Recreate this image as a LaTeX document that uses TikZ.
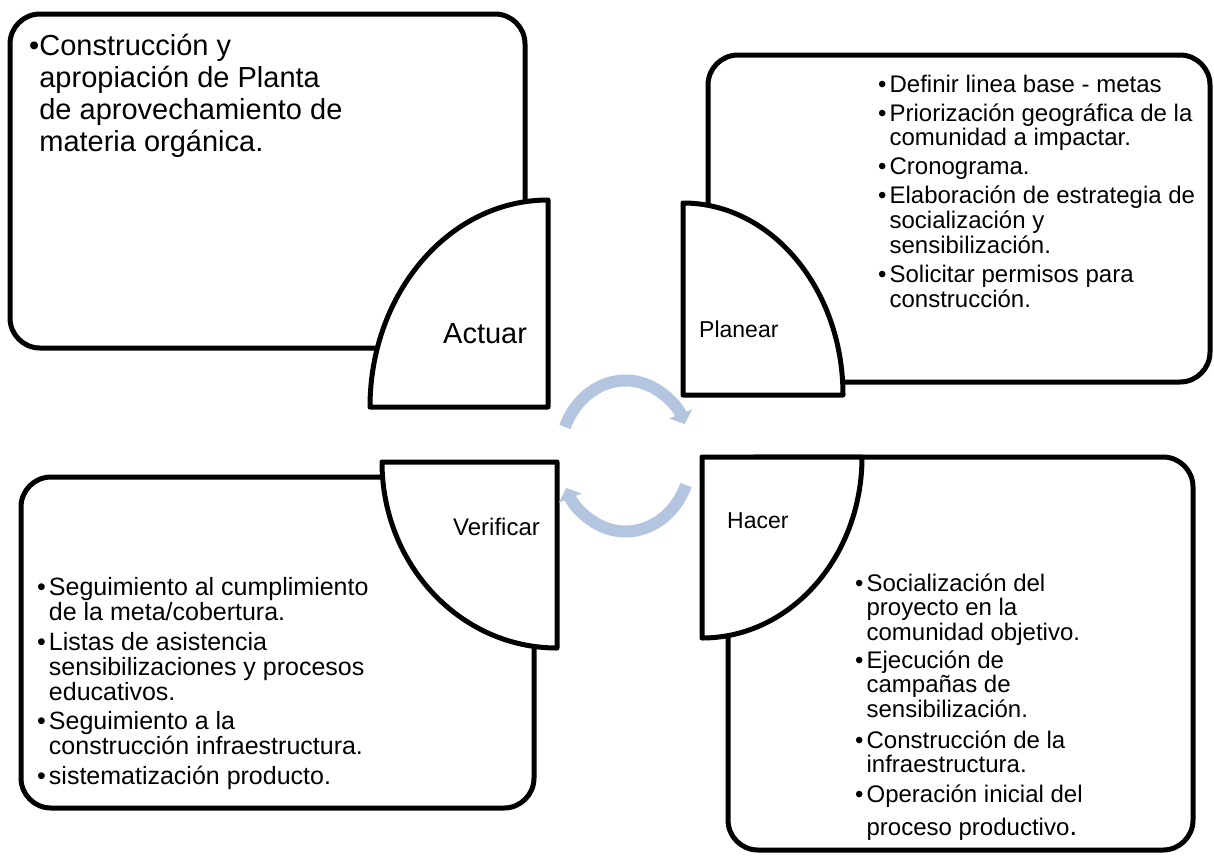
\documentclass[tikz,border=0pt]{standalone}
\usepackage{fontspec}
\setmainfont{Liberation Sans}
\usetikzlibrary{arrows.meta}
\definecolor{cycblue}{RGB}{180,197,223}
\newcommand\bigfs{\fontsize{29}{32}\selectfont}
\newcommand\smfs{\fontsize{23}{24}\selectfont}
\newcommand\midfs{\fontsize{24}{24}\selectfont}
\newcommand\verfs{\fontsize{25}{24}\selectfont}
\begin{document}
\begin{tikzpicture}[x=1pt,y=-1pt,
  box/.style={draw=black,line width=5pt,rounded corners=30pt,fill=white},
  quarter/.style={draw=black,line width=5pt,fill=white,line join=round},
  cyc/.style={draw=cycblue,line width=12pt,-{Triangle[length=11pt,width=24pt]}},
  list/.style={anchor=base west,inner sep=0pt,font=\midfs},
  phase/.style={anchor=base west,inner sep=0pt,font=\smfs}]
\useasboundingbox (0,0) rectangle (1214,855);
% outer boxes
\draw[box] (10,14) rectangle (525,348);
\draw[box] (708,55) rectangle (1210,382);
\draw[box] (21,477) rectangle (534,808);
\draw[box] (728,457) rectangle (1193,850);
% quarter shapes
\draw[quarter] (548,407) -- (370,407) arc[start angle=180,end angle=270,x radius=178,y radius=207] -- cycle;
\draw[quarter] (683,395) -- (683,203) arc[start angle=270,end angle=360,x radius=160,y radius=192] -- cycle;
\draw[quarter] (557,462) -- (382,462) arc[start angle=180,end angle=90,x radius=175,y radius=186] -- cycle;
\draw[quarter] (702,457) -- (862,457) arc[start angle=0,end angle=90,x radius=160,y radius=181] -- cycle;
% cycle arrows
\draw[cyc] (565,427) arc[start angle=202.6,end angle=335,x radius=65.5,y radius=75.5];
\draw[cyc] (686,485) arc[start angle=22.6,end angle=155,x radius=65.5,y radius=75.5];
% phase labels
\node[phase,font=\bigfs] (actuar) at (443,343) {Actuar};
\node[phase] (planear) at (699,337) {Planear};
\node[phase,font=\midfs] (verificar) at (453,535) {Verificar};
\node[phase] (hacer) at (727,528) {Hacer};
% texts
\node[list,font=\bigfs] (actText) at (29,55) {\begin{tabular}[t]{@{}l@{}l@{}}
•&Construcción y\\
&apropiación de Planta\\
&de aprovechamiento de\\
&materia orgánica.
\end{tabular}};
\node[list] (planText) at (878,92) {\begin{tabular}[t]{@{}l@{\hspace{3pt}}l@{}}
•&Definir linea base - metas\\[4.5pt]
•&Priorización geográfica de la\\
&comunidad a impactar.\\[4.5pt]
•&Cronograma.\\[4.5pt]
•&Elaboración de estrategia de\\
&socialización y\\
&sensibilización.\\[4pt]
•&Solicitar permisos para\\
&construcción.
\end{tabular}};
\node[list,font=\verfs] (verText) at (37,595) {\begin{tabular}[t]{@{}l@{\hspace{3pt}}l@{}}
•&Seguimiento al cumplimiento\\
&de la meta/cobertura.\\[4.5pt]
•&Listas de asistencia\\
&sensibilizaciones y procesos\\
&educativos.\\[3pt]
•&Seguimiento a la\\
&construcción infraestructura.\\[4pt]
•&sistematización producto.
\end{tabular}};
\node[list] (hacText) at (855,591) {\begin{tabular}[t]{@{}l@{\hspace{3pt}}l@{}}
•&Socialización del\\
&proyecto en la\\
&comunidad objetivo.\\[3pt]
•&Ejecución de\\
&campañas de\\
&sensibilización.\\[6pt]
•&Construcción de la\\
&infraestructura.\\[5pt]
•&Operación inicial del\\[8pt]
&proceso productivo\smash{\fontsize{29}{32}\selectfont .}
\end{tabular}};
\end{tikzpicture}
\end{document}
